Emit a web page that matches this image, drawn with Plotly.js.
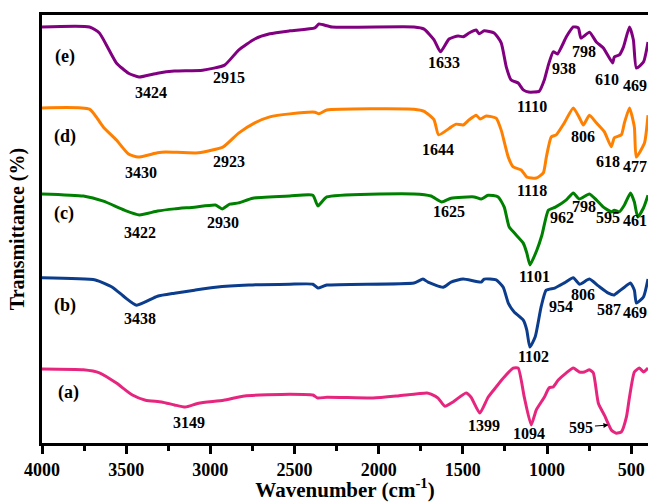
<!DOCTYPE html>
<html>
<head>
<meta charset="utf-8">
<script src="https://cdn.plot.ly/plotly-3.0.1.min.js"></script>
<style>html,body{margin:0;padding:0;background:#fff;}#chart{width:648px;height:502px;}</style>
</head>
<body>
<div id="chart"></div>
<script>
// Wavenumber (cm-1) and relative transmittance (offset, arbitrary %) for each spectrum
const wnE = [4000,3718,3659,3558,3486,3424,3314,3213,3046,2915,2832,2736,2647,2528,2379,2355,2278,1790,1730,1671,1633,1582,1528,1498,1463,1421,1403,1373,1314,1272,1242,1213,1171,1141,1110,1046,1016,992,963,938,885,844,814,798,748,707,665,610,600,570,546,510,487,469,427,400];
const tE  = [97.2,97.2,95.8,88.8,86.4,85.5,86.4,86.9,87.1,88.3,91.8,94.4,95.6,96.3,97.0,97.9,97.2,97.2,96.7,94.2,91.4,94.4,95.1,94.9,95.8,96.5,95.6,96.3,95.8,93.5,87.9,84.8,84.1,82.5,82.0,82.2,84.8,88.3,91.4,90.9,94.9,97.2,97.0,94.6,96.0,93.7,92.3,88.8,90.2,90.7,92.5,97.2,94.2,87.6,89.0,93.7];

const wnD = [4000,3718,3635,3558,3486,3430,3314,3266,3070,2923,2832,2736,2647,2528,2379,2355,2308,1790,1730,1671,1644,1570,1540,1498,1463,1421,1397,1361,1302,1272,1230,1201,1153,1118,1064,1022,1004,975,945,897,844,806,784,748,707,659,618,600,558,540,510,481,470,421,400];
const tD  = [78.3,78.0,73.8,70.8,67.5,66.8,67.8,68.0,67.8,69.2,72.4,74.8,76.2,76.9,77.3,76.9,77.8,78.0,77.5,75.5,72.0,73.8,74.5,74.3,75.5,76.6,75.7,76.4,75.9,73.1,66.8,64.5,63.8,62.1,61.9,63.1,66.8,71.5,72.0,74.8,78.3,75.9,74.3,76.6,74.8,72.7,69.2,71.3,72.0,74.8,78.3,73.8,66.8,70.1,76.6];

const wnC = [4000,3754,3635,3510,3422,3314,3213,3094,2969,2930,2885,2832,2748,2528,2391,2361,2308,1790,1689,1625,1570,1433,1391,1350,1290,1254,1225,1195,1141,1120,1101,1060,1030,992,950,885,844,808,748,707,665,617,600,570,540,504,481,461,427,400];
const tC  = [58.2,57.7,56.5,54.4,53.3,54.2,54.7,55.1,55.6,54.7,55.8,56.1,57.2,57.7,57.9,55.4,57.5,58.2,57.7,56.3,57.2,57.5,57.0,57.9,57.5,55.1,50.5,49.1,46.7,44.4,41.6,45.1,48.6,54.4,55.1,56.8,58.4,57.0,58.2,56.8,55.1,54.0,54.4,54.0,55.6,58.4,56.3,52.8,54.9,57.9];

const wnB = [4000,3683,3582,3510,3438,3314,3213,3094,2969,2772,2528,2391,2361,2308,1790,1737,1707,1617,1570,1498,1391,1373,1302,1260,1230,1195,1141,1120,1102,1070,1035,1005,954,897,844,806,748,695,635,600,587,540,504,481,469,427,400];
const tB  = [38.6,38.1,36.4,34.1,32.2,34.3,35.0,35.7,36.4,36.9,37.1,37.1,36.2,36.9,37.4,38.3,37.6,36.4,37.6,38.3,37.6,38.3,38.1,36.4,32.7,30.6,28.7,26.4,22.4,24.8,31.8,35.7,36.2,37.4,38.6,37.1,38.3,36.7,35.0,34.6,35.0,36.4,37.4,35.7,32.7,34.1,38.3];

const wnA = [4000,3754,3659,3558,3463,3385,3290,3213,3149,3070,2921,2796,2528,2391,2361,2308,2034,1885,1713,1689,1647,1606,1558,1481,1451,1399,1350,1302,1254,1201,1171,1135,1094,1064,1016,987,963,933,885,844,808,778,748,725,695,659,617,588,558,528,510,481,451,427,400];
const tA  = [17.3,17.1,16.4,14.0,11.2,10.0,9.6,8.9,8.4,9.3,10.0,11.0,11.4,11.2,10.5,10.7,10.5,11.0,11.7,11.4,10.5,8.6,9.6,11.7,10.7,7.0,10.7,13.1,15.4,17.5,17.5,10.7,4.2,7.7,10.7,12.9,13.1,14.7,16.4,17.5,16.6,16.6,17.1,16.4,9.3,6.5,3.0,2.3,2.6,6.1,10.7,16.6,17.5,16.6,17.5];

const seriesNames = ['(e)','(d)','(c)','(b)','(a)'];
const seriesColors = ['#800080','#FF8000','#008000','#0B3D8C','#E6267E'];
const seriesX = [wnE, wnD, wnC, wnB, wnA];
const seriesY = [tE, tD, tC, tB, tA];

// Peak labels: [text, wavenumber position, transmittance position]
const peakLabels = [
  ['3424',3355,82.0],['2915',2891,85.5],['1633',1611,88.8],['1110',1088,78.7],['938',897,87.6],['798',778,91.4],['610',641,85.0],['469',480,83.6],
  ['3430',3409,63.3],['2923',2891,65.7],['1644',1647,68.5],['1118',1088,59.1],['806',784,71.5],['618',640,65.7],['477',478,64.7],
  ['3422',3415,49.3],['2930',2927,51.6],['1625',1582,54.0],['1101',1076,38.8],['962',912,52.6],['798',782,55.2],['595',640,52.8],['461',478,52.1],
  ['3438',3415,29.2],['1102',1082,20.1],['954',915,31.8],['806',784,34.8],['587',634,31.3],['469',478,30.4],
  ['3149',3129,4.7],['1399',1373,4.0],['1094',1106,2.3]
];
const letterPos = [[3861,90.2],[3861,71.5],[3867,53.7],[3861,32.2],[3843,11.9]];

const FONT = 'Liberation Serif, Times New Roman, serif';

const traces = seriesNames.map((n,i)=>({
  x: seriesX[i], y: seriesY[i], type:'scatter', mode:'lines', name:n,
  line:{color:seriesColors[i], width:3, shape:'spline', smoothing:0.5},
  hoverinfo:'skip'
}));

const annotations = [];
peakLabels.forEach(p=>annotations.push({x:p[1], y:p[2], xref:'x', yref:'y', text:'<b>'+p[0]+'</b>', showarrow:false, font:{family:FONT, size:16, color:'#000'}}));
seriesNames.forEach((n,i)=>annotations.push({x:letterPos[i][0], y:letterPos[i][1], xref:'x', yref:'y', text:'<b>'+n+'</b>', showarrow:false, font:{family:FONT, size:18, color:'#000'}}));
annotations.push({x:635, y:4.2, xref:'x', yref:'y', text:'<b>595</b>', showarrow:true, ax:-27, ay:2, arrowhead:2, arrowsize:1, arrowwidth:1, arrowcolor:'#000', font:{family:FONT, size:16, color:'#000'}});

const layout = {
  width:648, height:502,
  margin:{l:42, r:0, t:15, b:59},
  paper_bgcolor:'#fff', plot_bgcolor:'#fff',
  showlegend:false,
  xaxis:{
    range:[4000,400], showgrid:false, zeroline:false,
    showline:true, linecolor:'#000', linewidth:3, mirror:true,
    ticks:'outside', ticklen:8, tickwidth:3, tickcolor:'#000', dtick:500, tick0:0,
    minor:{dtick:250, ticks:'outside', ticklen:5, tickwidth:3, tickcolor:'#000'},
    tickfont:{family:FONT, size:18, color:'#000', weight:'bold'},
    title:{text:'<b>Wavenumber (cm<sup>-1</sup>)</b>', font:{family:FONT, size:21, color:'#000'}, standoff:8}
  },
  yaxis:{
    range:[0,100], showgrid:false, zeroline:false, showticklabels:false, ticks:'',
    showline:true, linecolor:'#000', linewidth:3, mirror:true,
    title:{text:'<b>Transmittance (%)</b>', font:{family:FONT, size:20, color:'#000'}, standoff:10}
  },
  annotations: annotations
};

Plotly.newPlot('chart', traces, layout, {displayModeBar:false, staticPlot:true});
</script>
</body>
</html>
